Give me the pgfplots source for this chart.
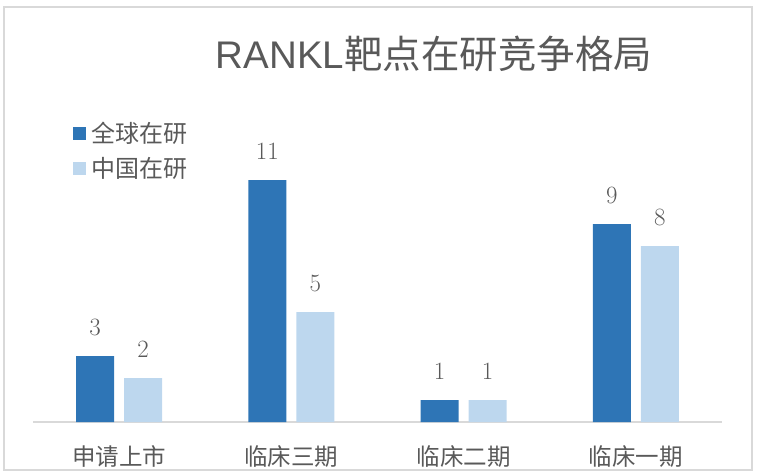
\documentclass[border=0pt]{standalone}
\usepackage{pgfplots}
\pgfplotsset{compat=1.18}
\usepackage{fontspec}
\newfontfamily\cjk{Noto Sans CJK SC}
\newfontfamily\arial{Liberation Sans}
\definecolor{dblue}{RGB}{46,117,182}
\definecolor{lblue}{RGB}{189,215,238}
\definecolor{txt}{RGB}{89,89,89}
\definecolor{grid}{RGB}{217,217,217}
\begin{document}
\begin{tikzpicture}
\begin{axis}[
    at={(0pt,0pt)}, anchor=south west,
    scale only axis,
    width=689pt, height=330pt,
    xmin=-0.5, xmax=3.5,
    ymin=0, ymax=15,
    clip=false,
    axis x line*=bottom,
    axis y line=none,
    x axis line style={grid, line width=1.5pt, -},
    xtick={0,1,2,3},
    xticklabels={申请上市,临床三期,临床二期,临床一期},
    major tick length=0pt,
    xticklabel style={font=\cjk\fontsize{23.5}{23.5}\selectfont, text=txt, yshift=-20pt},
    ybar, bar width=38pt,
    nodes near coords,
    every node near coord/.append style={font=\fontsize{23.5}{23.5}\selectfont, text=txt, inner sep=0pt, yshift=20pt},
    title={{\arial RANKL}\cjk 靶点在研竞争格局},
    title style={at={(0.582,1.097)}, anchor=center, font=\fontsize{38.5}{38.5}\selectfont, text=txt},
    legend style={at={(0.058,0.915)}, anchor=north west, draw=none, fill=none,
        font=\cjk\fontsize{24}{24}\selectfont, text=txt, row sep=9pt, inner sep=0pt,
        nodes={inner xsep=5pt}},
    legend cell align=left,
    legend image code/.code={\fill[#1] (0pt,-6.5pt) rectangle (13pt,6.5pt);},
]
\addplot[fill=dblue, draw=none, bar shift=-24pt] coordinates {(0,3) (1,11) (2,1) (3,9)};
\addplot[fill=lblue, draw=none, bar shift=24pt] coordinates {(0,2) (1,5) (2,1) (3,8)};
\legend{全球在研,中国在研}
\end{axis}
\draw[grid, line width=1.5pt] (-29pt,-48pt) rectangle (719pt,415pt);
\pgfresetboundingbox
\path[use as bounding box] (-33pt,-53pt) rectangle (729pt,422pt);
\end{tikzpicture}
\end{document}
